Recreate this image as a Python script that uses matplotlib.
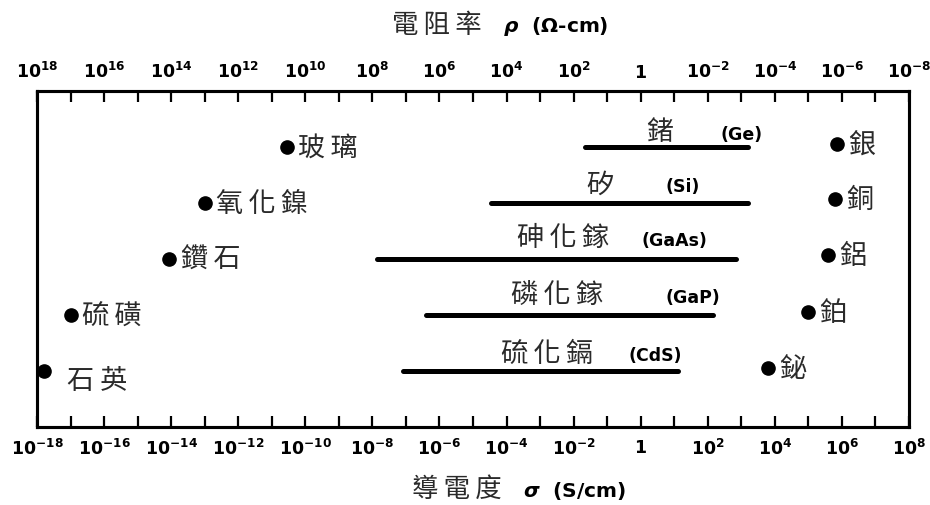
import numpy as np
import matplotlib.pyplot as plt

# conductivity data, log10(sigma) in S/cm
points_name = ["玻璃", "氧化鎳", "鑽石", "硫磺", "石英",
               "銀", "銅", "鋁", "鉑", "鉍"]
points_logx = [-10.55, -13.0, -14.05, -17.0, -17.8,
               5.85, 5.8, 5.6, 5.0, 3.8]
points_row = [1.0, 2.0, 3.0, 4.0, 5.0,
              0.95, 1.93, 2.93, 3.95, 4.95]

bars_name = ["鍺", "矽", "砷化鎵", "磷化鎵", "硫化鎘"]
bars_formula = ["(Ge)", "(Si)", "(GaAs)", "(GaP)", "(CdS)"]
bars_lo = [-1.65, -4.45, -7.85, -6.4, -7.1]
bars_hi = [3.2, 3.2, 2.85, 2.15, 1.1]
bars_row = [1, 2, 3, 4, 5]

sigma_exp = list(range(-18, 9))      # bottom axis decades
rho_exp = list(range(18, -9, -1))    # top axis decades

CJK = ["Noto Sans CJK TC", "DejaVu Sans"]
TXT = "#2a2a2a"


def exp_label(e):
    if e % 2:
        return ""
    if e == 0:
        return r"$\mathbf{1}$"
    return r"$\mathbf{10^{%d}}$" % e


def spaced(s):
    # the scanned labels have a little gap between characters
    return "\u2009".join(s)


fig = plt.figure(figsize=(9.3, 5.06), dpi=100)
ax = fig.add_axes([0.0398, 0.154, 0.9376, 0.664])

ax.set_xscale("log")
ax.set_xlim(10.0 ** sigma_exp[0], 10.0 ** sigma_exp[-1])
ax.set_ylim(6, 0)
ax.set_yticks([])

# bars for semiconductors
for lo, hi, row in zip(bars_lo, bars_hi, bars_row):
    ax.plot([10.0 ** lo, 10.0 ** hi], [row, row], color="black", lw=3.6,
            solid_capstyle="round")

# labels above bars
name_x = [0.57, -1.22, -2.32, -2.5, -2.8]
form_x = [3.0, 1.25, 1.02, 1.55, 0.42]
label_dy = [0.27, 0.34, 0.38, 0.37, 0.32]
for name, form, nx, fx, dy, row in zip(bars_name, bars_formula, name_x, form_x,
                                        label_dy, bars_row):
    ax.text(10.0 ** nx, row - dy, spaced(name), family=CJK, fontsize=19.5,
            ha="center", va="center", color=TXT)
    ax.text(10.0 ** fx, row - dy + 0.04, form, fontsize=12.5, fontweight="bold",
            ha="center", va="center")

# points for insulators and metals
ax.plot([10.0 ** v for v in points_logx], points_row, "o", color="black",
        markersize=9.5, clip_on=False, zorder=5)
for name, lx, row in zip(points_name, points_logx, points_row):
    if name == "石英":
        ax.text(10.0 ** -17.1, row + 0.16, name[0] + " " + name[1], family=CJK,
                fontsize=19.5, ha="left", va="center", color=TXT)
    else:
        ax.text(10.0 ** (lx + 0.33), row, spaced(name), family=CJK,
                fontsize=19.5, ha="left", va="center", color=TXT)

for s in ax.spines.values():
    s.set_linewidth(2.2)

ax.set_xticks([10.0 ** e for e in sigma_exp])
ax.set_xticklabels([exp_label(e) for e in sigma_exp])
ax.minorticks_off()
ax.tick_params(axis="x", which="major", direction="in", length=8, width=1.6,
               labelsize=12.5, pad=8, top=False)

ax2 = ax.twiny()
ax2.set_xscale("log")
ax2.set_xlim(10.0 ** rho_exp[0], 10.0 ** rho_exp[-1])
ax2.set_xticks([10.0 ** e for e in rho_exp])
ax2.set_xticklabels([exp_label(e) for e in rho_exp])
ax2.minorticks_off()
ax2.tick_params(axis="x", which="major", direction="in", length=8, width=1.6,
                labelsize=12.5, pad=7)
for s in ax2.spines.values():
    s.set_linewidth(2.2)

# axis titles
fig.text(0.421, 0.950, spaced("電阻率"), family=CJK, fontsize=19, ha="left",
         va="center", color=TXT)
fig.text(0.541, 0.947, r"$\boldsymbol{\rho}$  (Ω-cm)", fontsize=14.5,
         fontweight="bold", ha="left", va="center")
fig.text(0.443, 0.032, spaced("導電度"), family=CJK, fontsize=19, ha="left",
         va="center", color=TXT)
fig.text(0.562, 0.030, r"$\boldsymbol{\sigma}$  (S/cm)", fontsize=14.5,
         fontweight="bold", ha="left", va="center")

fig.savefig("out.png", dpi=100)
